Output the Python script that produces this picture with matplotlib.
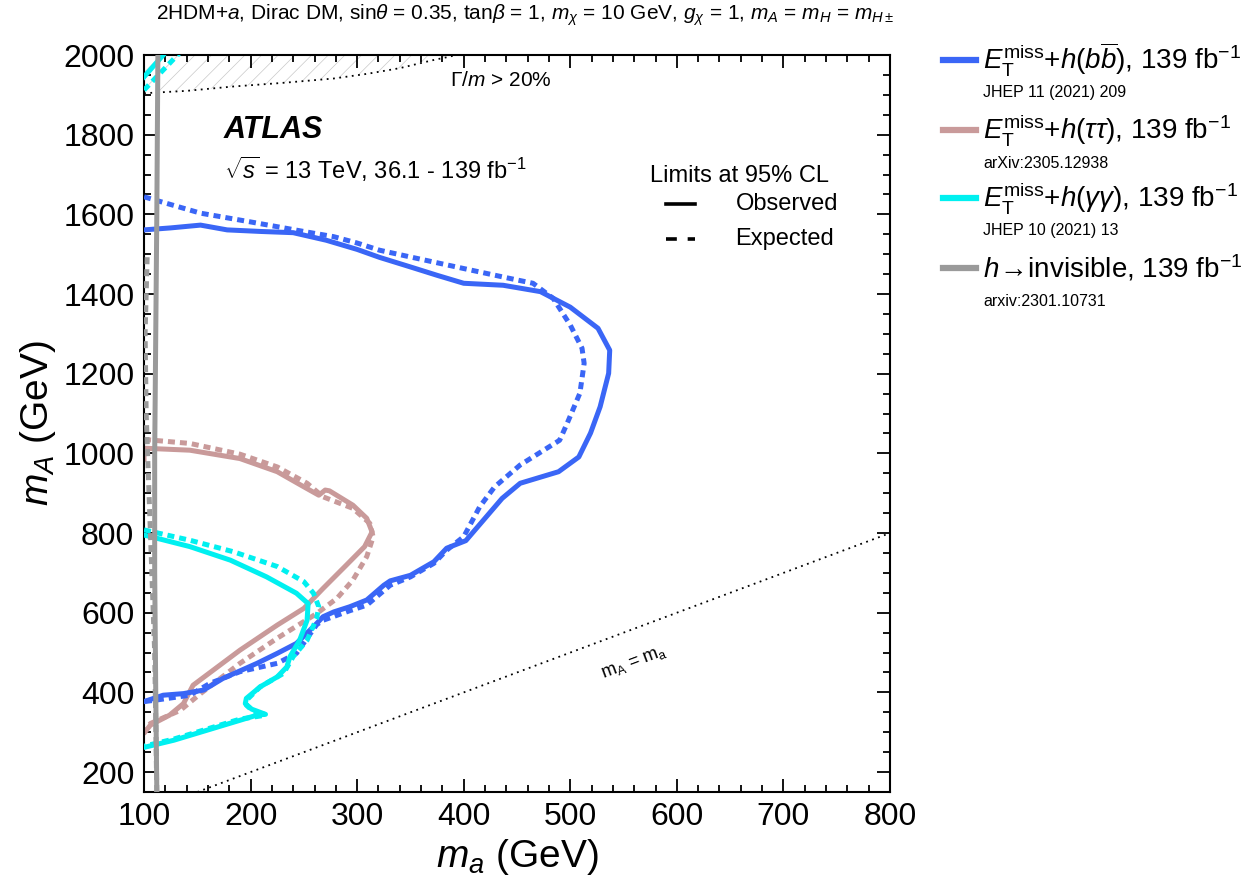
import numpy as np
import matplotlib
matplotlib.use("Agg")
import matplotlib.pyplot as plt
from matplotlib.lines import Line2D

plt.rcParams['font.family'] = ['Liberation Sans', 'DejaVu Sans']
plt.rcParams['mathtext.fontset'] = 'custom'
plt.rcParams['mathtext.rm'] = 'Liberation Sans'
plt.rcParams['mathtext.it'] = 'Liberation Sans:italic'
plt.rcParams['mathtext.bf'] = 'Liberation Sans:bold'

# --- exclusion contours (m_a, m_A) in GeV ---
bb_obs_x = [100, 125, 153, 178, 210, 240, 271, 300, 321, 350, 375, 400, 437, 472, 500, 526, 537, 536, 528, 519,
            508, 489, 453, 436, 402, 384, 372, 350, 331, 325, 309, 293, 278, 268, 262, 243, 225, 206, 174, 156,
            137, 118, 100]
bb_obs_y = [1561, 1566, 1573, 1561, 1557, 1554, 1535, 1512, 1492, 1468, 1447, 1427, 1422, 1406, 1367, 1314, 1259,
            1201, 1117, 1051, 991, 954, 925, 887, 781, 762, 728, 694, 680, 669, 632, 615, 602, 590, 573, 523, 498,
            473, 435, 406, 397, 393, 377]
bb_exp_x = [100, 153, 200, 250, 278, 300, 321, 350, 400, 440, 465, 484, 500, 511, 513, 509, 497, 490, 453, 429,
            415, 400, 384, 372, 350, 331, 309, 293, 268, 262, 243, 225, 190, 162, 143, 112, 100]
bb_exp_y = [1644, 1603, 1581, 1557, 1544, 1528, 1510, 1493, 1464, 1441, 1427, 1389, 1322, 1264, 1226, 1151, 1075,
            1033, 971, 916, 866, 791, 757, 724, 690, 669, 619, 605, 581, 570, 498, 473, 452, 423, 393, 381, 377]

tt_obs_x = [100, 100, 143, 190, 225, 250, 264, 270, 274, 296, 309, 314, 307, 290, 268, 250, 225, 190, 146, 137,
            124, 106, 101]
tt_obs_y = [985, 1013, 1008, 987, 954, 916, 895, 908, 906, 870, 837, 803, 766, 720, 661, 611, 569, 506, 418, 372,
            343, 318, 301]
tt_exp_x = [100, 143, 190, 225, 253, 268, 296, 312, 315, 309, 296, 281, 262, 225, 190, 153, 134, 106, 101]
tt_exp_y = [1035, 1025, 998, 966, 925, 891, 862, 824, 790, 741, 682, 636, 598, 536, 473, 397, 355, 322, 305]

gg_obs_x = [100, 112, 143, 181, 215, 243, 254, 253, 246, 237, 234, 225, 209, 196, 195, 201, 214, 206, 190, 159,
            128, 100]
gg_obs_y = [795, 787, 766, 732, 690, 649, 623, 581, 531, 490, 464, 439, 414, 385, 372, 358, 345, 343, 330, 305,
            280, 262]
gg_exp_x = [100, 143, 184, 225, 250, 259, 264, 262, 253, 240, 231, 209, 196, 196, 201, 212, 190, 159, 128, 100]
gg_exp_y = [808, 782, 753, 716, 678, 649, 615, 586, 531, 490, 448, 414, 380, 368, 356, 342, 333, 308, 283, 265]
gg_obs_top_x = [100, 118]
gg_obs_top_y = [1945, 2000]
gg_exp_top_x = [100, 135]
gg_exp_top_y = [1912, 2010]

inv_obs_x = [112, 111, 110, 110, 111, 112, 113]
inv_obs_y = [150, 400, 700, 1000, 1300, 1600, 2000]
inv_exp_x = [112, 110, 106, 102, 101, 103]
inv_exp_y = [150, 500, 800, 1100, 1300, 1500]

# width/mass > 20% boundary
wid_x = [100, 140, 184, 230, 278, 310, 340, 371, 387, 420]
wid_y = [1904, 1910, 1921, 1930, 1941, 1953, 1967, 1987, 1996, 2020]

c_bb = '#3a66f6'
c_tt = '#c99a9a'
c_gg = '#00f0f0'
c_inv = '#9a9a9a'

fig = plt.figure(figsize=(12.59, 8.9), dpi=100)
ax = fig.add_axes([0.1144, 0.1101, 0.5925, 0.8281])
ax.set_xlim(100, 800)
ax.set_ylim(150, 2000)

lw = 3.6
dash = (1.4, 1.0)

def contour(x, y, c, dashed=False, z=2):
    line, = ax.plot(x, y, color=c, lw=lw, zorder=z, solid_joinstyle='round')
    if dashed:
        line.set_dashes(dash)
        line.set_dash_capstyle('butt')
    return line

contour(tt_exp_x, tt_exp_y, c_tt, True)
contour(tt_obs_x, tt_obs_y, c_tt)
contour(bb_exp_x, bb_exp_y, c_bb, True, 3)
contour(bb_obs_x, bb_obs_y, c_bb, False, 3)
contour(gg_exp_x, gg_exp_y, c_gg, True, 4)
contour(gg_obs_x, gg_obs_y, c_gg, False, 4)
contour(gg_exp_top_x, gg_exp_top_y, c_gg, True, 4)
contour(gg_obs_top_x, gg_obs_top_y, c_gg, False, 4)
contour(inv_exp_x, inv_exp_y, c_inv, True, 5)
contour(inv_obs_x, inv_obs_y, c_inv, False, 5)

# hatched region where the width is too large
plt.rcParams['hatch.linewidth'] = 0.5
ax.fill_between(wid_x, wid_y, 2100, facecolor='none', edgecolor='#c8c8c8', hatch='//', lw=0, zorder=1)
ax.plot(wid_x, wid_y, color='k', lw=1.3, ls=(0, (1, 2.5)), zorder=1.5)
ax.text(387, 1937, r'$\Gamma/m$ > 20%', fontsize=15, va='center')

# m_A = m_a diagonal
diag = np.array([150, 800])
ax.plot(diag, diag, color='k', lw=1.3, ls=(0, (1, 2.5)), zorder=1.5)
ax.text(560, 474, r'm$_\mathrm{A}$ = m$_\mathrm{a}$', fontsize=13, rotation=20.5,
        ha='center', va='center', rotation_mode='anchor')

ax.set_xticks(np.arange(100, 801, 100))
ax.set_xticks(np.arange(100, 801, 20), minor=True)
ax.set_yticks(np.arange(200, 2001, 200))
ax.set_yticks(np.arange(150, 2001, 50), minor=True)
ax.tick_params(which='both', direction='in', top=True, right=True, width=1.3, labelsize=23)
ax.tick_params(which='major', length=9.5, pad=7)
ax.tick_params(which='minor', length=5)
for s in ax.spines.values():
    s.set_linewidth(1.5)

ax.set_xlabel(r'$m_a$ (GeV)', fontsize=28, x=0.5)
ax.set_ylabel(r'$m_A$ (GeV)', fontsize=28)

# labels inside the frame
ax.text(0.107, 0.887, 'ATLAS', transform=ax.transAxes, fontsize=22, fontweight='bold', style='italic')
ax.text(0.107, 0.832, r'$\sqrt{s}$ = 13 TeV, 36.1 - 139 fb$^{-1}$', transform=ax.transAxes, fontsize=17)
ax.text(0.678, 0.828, 'Limits at 95% CL', transform=ax.transAxes, fontsize=17)
ax.plot([0.70, 0.738], [0.798, 0.798], transform=ax.transAxes, color='k', lw=2.6)
ax.plot([0.70, 0.738], [0.751, 0.751], transform=ax.transAxes, color='k', lw=2.6, dashes=(3, 3.0))
ax.text(0.793, 0.798, 'Observed', transform=ax.transAxes, fontsize=17, va='center')
ax.text(0.793, 0.751, 'Expected', transform=ax.transAxes, fontsize=17, va='center')

fig.text(0.417, 0.983,
         r'2HDM+$a$, Dirac DM, sin$\theta$ = 0.35, tan$\beta$ = 1, $m_\chi$ = 10 GeV, $g_\chi$ = 1, '
         r'$m_A$ = $m_H$ = $m_{H\pm}$', fontsize=15, ha='center', va='center')

# legend outside the frame
names = [r'$E_\mathrm{T}^\mathrm{miss}$+$h(b\overline{b})$, 139 fb$^{-1}$',
         r'$E_\mathrm{T}^\mathrm{miss}$+$h(\tau\tau)$, 139 fb$^{-1}$',
         r'$E_\mathrm{T}^\mathrm{miss}$+$h(\gamma\gamma)$, 139 fb$^{-1}$',
         r'$h\!\rightarrow\!$invisible, 139 fb$^{-1}$']
refs = ['JHEP 11 (2021) 209', 'arXiv:2305.12938', 'JHEP 10 (2021) 13', 'arxiv:2301.10731']
colors = [c_bb, c_tt, c_gg, c_inv]
rows = [60, 130, 198, 268]
for name, ref, c, py in zip(names, refs, colors, rows):
    yf = 1 - py / 890
    fig.add_artist(Line2D([943 / 1259, 976 / 1259], [yf, yf], color=c, lw=4.5))
    fig.text(983 / 1259, yf, name, fontsize=20, va='center')
    fig.text(983 / 1259, 1 - (py + 33) / 890, ref, fontsize=11.5, va='center')

fig.savefig('out.png', dpi=100)
